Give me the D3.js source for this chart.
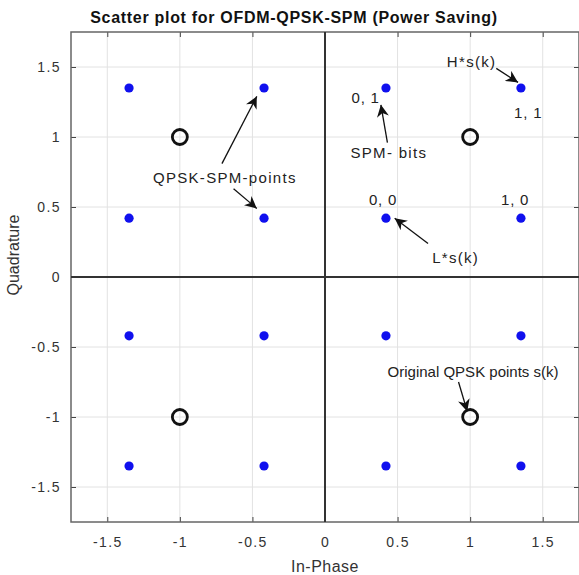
<!DOCTYPE html>
<html>
<head>
<meta charset="utf-8">
<script src="https://cdn.jsdelivr.net/npm/d3@7"></script>
<style>
  body { margin: 0; background: #fff; }
  text { font-family: Arial, "Liberation Sans", sans-serif; }
</style>
</head>
<body>
<div id="chart"></div>
<script>
const width = 579;
const height = 575;

// constellation data
const spmLevels = [-1.35, -0.42, 0.42, 1.35];   // L*s(k) and H*s(k) amplitudes
const qpskLevels = [-1, 1];                      // original QPSK points
const ticks = [-1.5, -1, -0.5, 0, 0.5, 1, 1.5];

// bit labels next to the first quadrant points
const bitLabels = ["1, 1", "0, 1", "0, 0", "1, 0"];
const bitX = [1.40, 0.28, 0.40, 1.31];
const bitY = [1.17, 1.28, 0.55, 0.55];

// text annotations (data coords)
const noteText = ["H*s(k)", "SPM- bits", "L*s(k)", "QPSK-SPM-points", "Original QPSK points s(k)"];
const noteX = [1.01, 0.44, 0.90, -0.69, 1.02];
const noteY = [1.54, 0.89, 0.14, 0.71, -0.68];

// arrows: from [x,y] to [x,y] (data coords)
const arrowFrom = [[1.18, 1.49], [0.43, 0.96], [0.71, 0.24], [-0.71, 0.81], [-0.63, 0.63], [0.92, -0.75]];
const arrowTo   = [[1.33, 1.39], [0.385, 1.23], [0.48, 0.42], [-0.47, 1.29], [-0.47, 0.49], [0.98, -0.96]];

const margin = {top: 32, right: 0, bottom: 53, left: 71};

const x = d3.scaleLinear().domain([-1.75, 1.75]).range([margin.left, width - margin.right]);
const y = d3.scaleLinear().domain([-1.75, 1.75]).range([height - margin.bottom, margin.top]);

const svg = d3.select("#chart").append("svg")
    .attr("width", width)
    .attr("height", height);

svg.append("defs").append("marker")
    .attr("id", "arrow")
    .attr("viewBox", "0 0 10 10")
    .attr("refX", 10).attr("refY", 5)
    .attr("markerWidth", 12).attr("markerHeight", 12)
    .attr("markerUnits", "userSpaceOnUse")
    .attr("orient", "auto")
  .append("path")
    .attr("d", "M0,0 L10,5 L0,10 L3,5 Z")
    .attr("fill", "#111");

// grid
const grid = svg.append("g").attr("stroke", "#e2e2e2").attr("stroke-width", 1);
grid.selectAll(".gx").data(ticks).join("line")
    .attr("x1", d => x(d)).attr("x2", d => x(d))
    .attr("y1", y.range()[0]).attr("y2", y.range()[1]);
grid.selectAll(".gy").data(ticks).join("line")
    .attr("y1", d => y(d)).attr("y2", d => y(d))
    .attr("x1", x.range()[0]).attr("x2", x.range()[1]);

// axes (ticks inside, on all four sides)
const fmt = d => String(d);
const tickStyle = g => {
  g.select(".domain").remove();
  g.selectAll(".tick line").attr("stroke", "#444");
  g.selectAll(".tick text").attr("fill", "#333")
      .style("font-size", "14px").style("letter-spacing", "1.4px");
};
svg.append("g").attr("transform", `translate(0,${y(-1.75)})`)
    .call(d3.axisBottom(x).tickValues(ticks).tickSizeInner(-5).tickSizeOuter(0).tickPadding(15).tickFormat(fmt))
    .call(tickStyle);
svg.append("g").attr("transform", `translate(0,${y(1.75)})`)
    .call(d3.axisTop(x).tickValues(ticks).tickSizeInner(-5).tickSizeOuter(0).tickFormat(""))
    .call(tickStyle);
svg.append("g").attr("transform", `translate(${x(-1.75)},0)`)
    .call(d3.axisLeft(y).tickValues(ticks).tickSizeInner(-5).tickSizeOuter(0).tickPadding(10).tickFormat(fmt))
    .call(tickStyle);
svg.append("g").attr("transform", `translate(${x(1.75)},0)`)
    .call(d3.axisRight(y).tickValues(ticks).tickSizeInner(-5).tickSizeOuter(0).tickFormat(""))
    .call(tickStyle);

// frame
svg.append("rect")
    .attr("x", x(-1.75)).attr("y", y(1.75))
    .attr("width", x(1.75) - x(-1.75)).attr("height", y(-1.75) - y(1.75))
    .attr("fill", "none").attr("stroke", "#666").attr("stroke-width", 1.5);

// zero lines
svg.append("line")
    .attr("x1", x(0)).attr("x2", x(0)).attr("y1", y(-1.75)).attr("y2", y(1.75))
    .attr("stroke", "#333").attr("stroke-width", 2);
svg.append("line")
    .attr("y1", y(0)).attr("y2", y(0)).attr("x1", x(-1.75)).attr("x2", x(1.75))
    .attr("stroke", "#333").attr("stroke-width", 2);

// SPM points
const spmPts = d3.cross(spmLevels, spmLevels);
svg.append("g").selectAll("circle").data(spmPts).join("circle")
    .attr("cx", d => x(d[0])).attr("cy", d => y(d[1]))
    .attr("r", 4.6).attr("fill", "#1010ee");

// original QPSK points
const qpskPts = d3.cross(qpskLevels, qpskLevels);
svg.append("g").selectAll("circle").data(qpskPts).join("circle")
    .attr("cx", d => x(d[0])).attr("cy", d => y(d[1]))
    .attr("r", 7.5).attr("fill", "none").attr("stroke", "#111").attr("stroke-width", 2.8);

// bit labels
svg.append("g").selectAll("text").data(bitLabels).join("text")
    .attr("x", (d, i) => x(bitX[i])).attr("y", (d, i) => y(bitY[i]))
    .attr("dy", "0.35em").attr("text-anchor", "middle")
    .style("font-size", "15px").style("letter-spacing", "0.8px").attr("fill", "#222")
    .text(d => d);

// annotation texts
svg.append("g").selectAll("text").data(noteText).join("text")
    .attr("x", (d, i) => x(noteX[i])).attr("y", (d, i) => y(noteY[i]))
    .attr("dy", "0.35em").attr("text-anchor", "middle")
    .style("font-size", "15px")
    .style("letter-spacing", (d, i) => i === noteText.length - 1 ? "0px" : "1.3px")
    .attr("fill", "#222")
    .text(d => d);

// arrows
svg.append("g").selectAll("line").data(arrowFrom).join("line")
    .attr("x1", d => x(d[0])).attr("y1", d => y(d[1]))
    .attr("x2", (d, i) => x(arrowTo[i][0])).attr("y2", (d, i) => y(arrowTo[i][1]))
    .attr("stroke", "#111").attr("stroke-width", 1.3)
    .attr("marker-end", "url(#arrow)");

// title and axis labels
svg.append("text")
    .attr("x", 294).attr("y", 23)
    .attr("text-anchor", "middle")
    .style("font-size", "16px").style("font-weight", "bold").style("letter-spacing", "0.7px")
    .attr("fill", "#111")
    .text("Scatter plot for OFDM-QPSK-SPM (Power Saving)");

svg.append("text")
    .attr("x", x(0)).attr("y", 572)
    .attr("text-anchor", "middle")
    .style("font-size", "16px").style("letter-spacing", "0.5px").attr("fill", "#333")
    .text("In-Phase");

svg.append("text")
    .attr("transform", `translate(19,255) rotate(-90)`)
    .attr("text-anchor", "middle")
    .style("font-size", "16px").attr("fill", "#333")
    .text("Quadrature");
</script>
</body>
</html>
